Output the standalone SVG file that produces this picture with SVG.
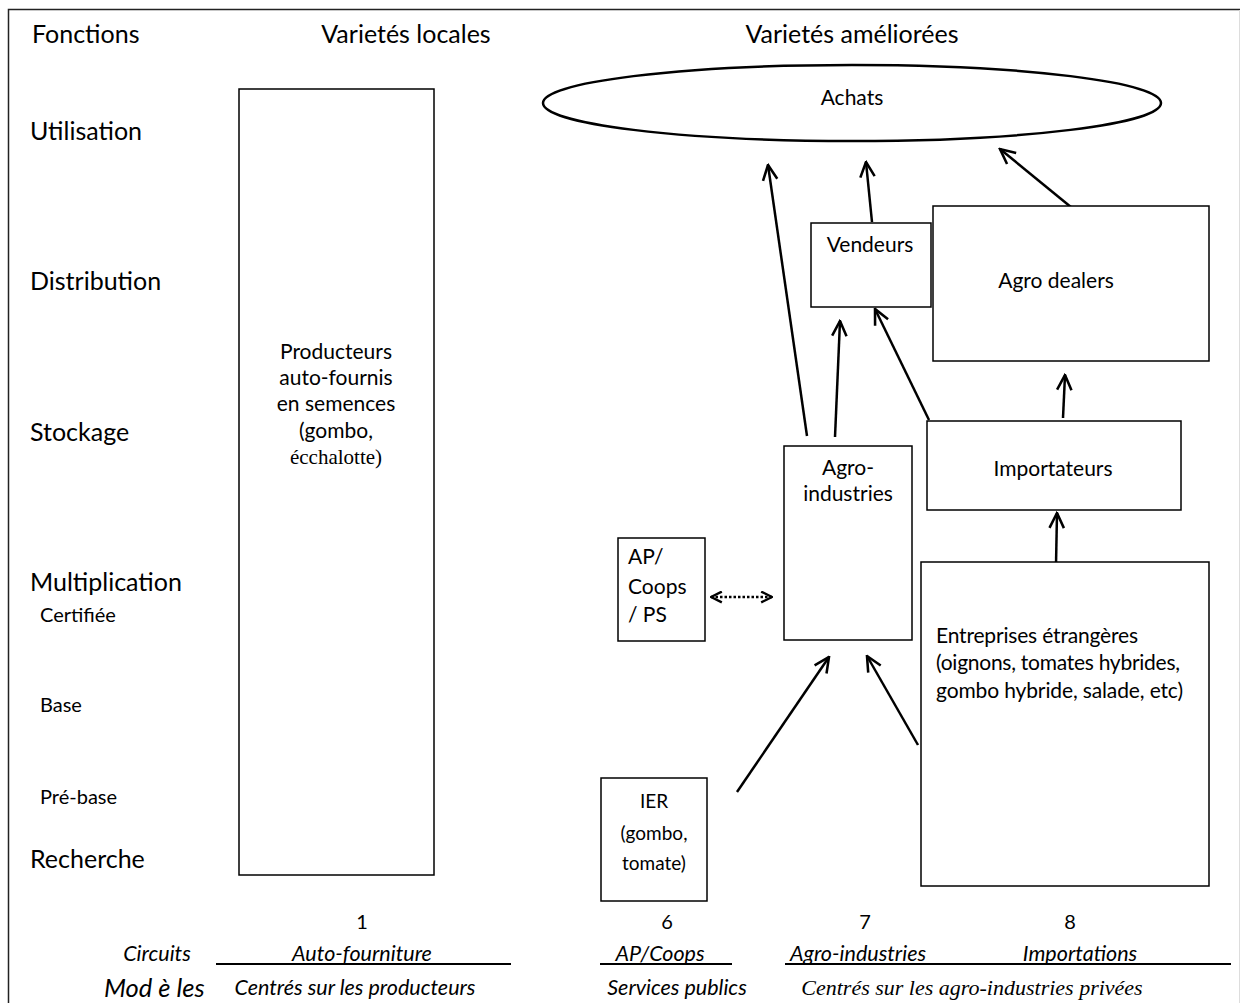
<svg xmlns="http://www.w3.org/2000/svg" width="1241" height="1003" viewBox="0 0 1241 1003">
<defs>
<style>
.t{font-family:Lato,"Liberation Sans",sans-serif;fill:#000}
.h{font-size:25px}
.sub{font-size:20px}
.l{font-size:21px}
.f{font-size:21.5px;font-style:italic}
.box{fill:#fff;stroke:#000;stroke-width:1.5}
.ar{fill:none;stroke:#000;stroke-width:2.5;marker-end:url(#ah)}
.serif{font-family:"Liberation Serif",serif}
</style>
<marker id="ah" viewBox="0 0 12 12" refX="11" refY="6" markerWidth="18" markerHeight="18" markerUnits="userSpaceOnUse" orient="auto">
<path d="M1,1.2 L11,6 L1,10.8" fill="none" stroke="#000" stroke-width="1.7"/>
</marker>
<marker id="ahs" viewBox="0 0 12 12" refX="11" refY="6" markerWidth="13" markerHeight="13" markerUnits="userSpaceOnUse" orient="auto-start-reverse">
<path d="M1,1 L11,6 L1,11" fill="none" stroke="#000" stroke-width="2.2"/>
</marker>
</defs>
<rect width="1241" height="1003" fill="#fff"/>
<g id="frame" fill="none">
<path d="M8.5,1003 V9.5 H1240" stroke="#222" stroke-width="1.5"/>
<path d="M1239.5,10 V1003" stroke="#ddd" stroke-width="1"/>
</g>
<g id="headers" class="t h">
<text x="32" y="43">Fonctions</text>
<text x="406" y="43" text-anchor="middle">Varietés locales</text>
<text x="852" y="43" text-anchor="middle">Varietés améliorées</text>
<text x="30" y="140">Utilisation</text>
<text x="30" y="290">Distribution</text>
<text x="30" y="441">Stockage</text>
<text x="30" y="591">Multiplication</text>
<text x="30" y="868">Recherche</text>
</g>
<g id="sublevels" class="t sub">
<text x="40" y="622">Certifiée</text>
<text x="40" y="712">Base</text>
<text x="40" y="804">Pré-base</text>
</g>
<g id="connectors">
<line class="ar" x1="807" y1="436" x2="768" y2="165"/>
<line class="ar" x1="835" y1="437" x2="840" y2="321"/>
<line class="ar" x1="872" y1="222" x2="866" y2="162"/>
<line class="ar" x1="1077" y1="212" x2="1000" y2="149"/>
<line class="ar" x1="929" y1="420" x2="875" y2="309"/>
<line class="ar" x1="1063" y1="418" x2="1065" y2="375"/>
<line class="ar" x1="1056" y1="565" x2="1057" y2="513"/>
<line class="ar" x1="737" y1="792" x2="829" y2="657"/>
<line class="ar" x1="918" y1="745" x2="867" y2="656"/>
<line x1="711" y1="597" x2="772" y2="597" fill="none" stroke="#000" stroke-width="2.5" stroke-dasharray="2.5,2" marker-start="url(#ahs)" marker-end="url(#ahs)"/>
</g>
<g id="achats">
<ellipse cx="852" cy="103" rx="309" ry="38" fill="none" stroke="#000" stroke-width="2.5"/>
<text class="t l" x="852" y="105" text-anchor="middle">Achats</text>
</g>
<g id="producteurs">
<rect class="box" x="239" y="89" width="195" height="786"/>
<text class="t l" text-anchor="middle"><tspan x="336" y="359">Producteurs</tspan><tspan x="336" y="385">auto-fournis</tspan><tspan x="336" y="411">en semences</tspan><tspan x="336" y="438">(gombo,</tspan></text>
<text class="serif" font-size="21" x="336" y="464" text-anchor="middle">écchalotte)</text>
</g>
<g id="vendeurs">
<rect class="box" x="811" y="223" width="120" height="84"/>
<text class="t l" x="870" y="252" text-anchor="middle">Vendeurs</text>
</g>
<g id="agrodealers">
<rect class="box" x="933" y="206" width="276" height="155"/>
<text class="t l" x="1056" y="288" text-anchor="middle">Agro dealers</text>
</g>
<g id="agroindustries">
<rect class="box" x="784" y="446" width="128" height="194"/>
<text class="t l" text-anchor="middle"><tspan x="848" y="475">Agro-</tspan><tspan x="848" y="501">industries</tspan></text>
</g>
<g id="importateurs">
<rect class="box" x="927" y="421" width="254" height="89"/>
<text class="t l" x="1053" y="476" text-anchor="middle">Importateurs</text>
</g>
<g id="entreprises">
<rect class="box" x="921" y="562" width="288" height="324"/>
<text class="t l"><tspan x="936" y="643" textLength="202">Entreprises étrangères</tspan><tspan x="936" y="670" textLength="244">(oignons, tomates hybrides,</tspan><tspan x="936" y="698" textLength="247">gombo hybride, salade, etc)</tspan></text>
</g>
<g id="apcoops">
<rect class="box" x="618" y="538" width="87" height="103"/>
<text class="t l"><tspan x="628" y="564">AP/</tspan><tspan x="628" y="594">Coops</tspan><tspan x="628" y="622">/ PS</tspan></text>
</g>
<g id="ier">
<rect class="box" x="601" y="778" width="106" height="123"/>
<text class="t" font-size="19" text-anchor="middle"><tspan x="654" y="808">IER</tspan><tspan x="654" y="840">(gombo,</tspan><tspan x="654" y="870">tomate)</tspan></text>
</g>
<g id="footer">
<g class="t" font-size="20">
<text x="362" y="929" text-anchor="middle">1</text>
<text x="667" y="929" text-anchor="middle">6</text>
<text x="865" y="929" text-anchor="middle">7</text>
<text x="1070" y="929" text-anchor="middle">8</text>
</g>
<g class="t f">
<text x="157" y="961" text-anchor="middle">Circuits</text>
<text x="362" y="961" text-anchor="middle">Auto-fourniture</text>
<text x="660" y="961" text-anchor="middle">AP/Coops</text>
<text x="858" y="961" text-anchor="middle">Agro-industries</text>
<text x="1080" y="961" text-anchor="middle">Importations</text>
<text x="355" y="995" text-anchor="middle">Centrés sur les producteurs</text>
<text x="677" y="995" text-anchor="middle">Services publics</text>
</g>
<text class="t i" font-size="25.5" font-style="italic" x="104" y="997">Mod è les</text>
<text class="serif" font-style="italic" x="972" y="995" text-anchor="middle" font-size="22">Centrés sur les agro-industries privées</text>
<g stroke="#000" stroke-width="2">
<line x1="216" y1="964" x2="511" y2="964"/>
<line x1="600" y1="964" x2="732" y2="964"/>
<line x1="785" y1="964" x2="1231" y2="964"/>
</g>
</g>
</svg>
